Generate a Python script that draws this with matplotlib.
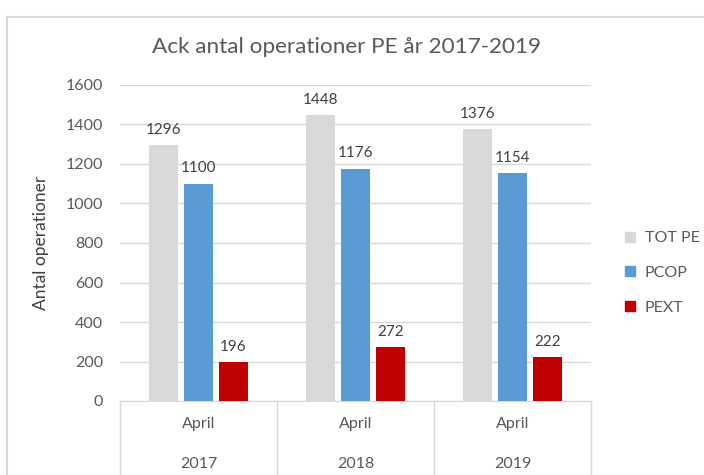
import matplotlib.pyplot as plt
from matplotlib.patches import Rectangle, Patch
import numpy as np

plt.rcParams['font.family'] = ['Lato', 'DejaVu Sans']

months = ["April", "April", "April"]
years = ["2017", "2018", "2019"]
series = ["TOT PE", "PCOP", "PEXT"]
tot_pe = [1296, 1448, 1376]
pcop = [1100, 1176, 1154]
pext = [196, 272, 222]
colors = ["#d9d9d9", "#5b9bd5", "#c00000"]

W, H = 704, 475
fig = plt.figure(figsize=(W / 100, H / 100), dpi=100)

# outer chart frame (cut off at right and bottom)
fig.patches.append(Rectangle((7 / W, -0.1), 1.2, 1 - 17 / H + 0.1,
                             transform=fig.transFigure, fill=False,
                             edgecolor="#d9d9d9", linewidth=1.5))

ax = fig.add_axes([120 / W, (H - 401) / H, (591 - 120) / W, (401 - 85) / H])

x = np.arange(len(years))
step = 0.223
width = 0.182
txt = "#595959"
for i, (vals, c) in enumerate(zip([tot_pe, pcop, pext], colors)):
    pos = x + (i - 1) * step
    ax.bar(pos, vals, width=width, color=c, label=series[i], zorder=3)
    for p, v in zip(pos, vals):
        ax.annotate(str(v), (p, v), xytext=(0, 6), textcoords="offset points",
                    ha="center", va="bottom", fontsize=11, color="#404040")

ax.set_xlim(-0.5, 2.5)
ax.set_ylim(0, 1600)
ax.set_yticks(range(0, 1601, 200))
ax.tick_params(axis="y", length=0, labelsize=11.5, labelcolor=txt, pad=12)
ax.set_xticks([])
ax.grid(axis="y", color="#d9d9d9", linewidth=1, zorder=0)
for s in ["top", "right", "left"]:
    ax.spines[s].set_visible(False)
ax.spines["bottom"].set_color("#d9d9d9")
ax.set_ylabel("Antal operationer", fontsize=12.5, color="#404040", labelpad=12)

# category table below the axis
tr = ax.get_xaxis_transform()
for b in [-0.5, 0.5, 1.5, 2.5]:
    ax.plot([b, b], [0, -0.3], transform=tr, color="#d9d9d9", linewidth=1,
            clip_on=False)
for xi, m, yr in zip(x, months, years):
    ax.annotate(m, (xi, 0), xycoords=tr, xytext=(0, -16.5), textcoords="offset points",
                ha="center", va="center", fontsize=11.5, color=txt)
    ax.annotate(yr, (xi, 0), xycoords=tr, xytext=(0, -45), textcoords="offset points",
                ha="center", va="center", fontsize=11.5, color=txt)

fig.text(346 / W, 1 - 47 / H, "Ack antal operationer PE år 2017-2019",
         ha="center", va="center", fontsize=16.2, color="#595959")

handles = [Patch(color=c) for c in colors]
fig.legend(handles, series, loc="center left",
           bbox_to_anchor=(611 / W, 1 - 273 / H), frameon=False,
           fontsize=11.5, labelcolor=txt, handlelength=0.6, handleheight=0.6,
           handletextpad=0.6, labelspacing=1.3)

fig.savefig("out.png", dpi=100)
